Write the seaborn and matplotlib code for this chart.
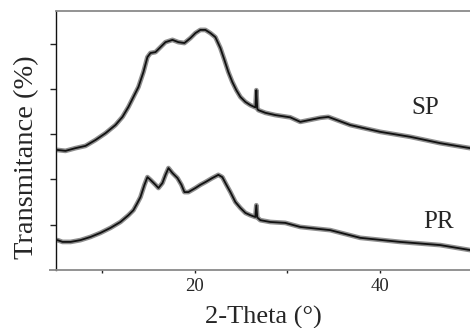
import numpy as np
import pandas as pd
import matplotlib
matplotlib.use("Agg")
import matplotlib.pyplot as plt
import seaborn as sns

# ---- data (2-theta in degrees, intensity in arbitrary units) ----
sp_theta = [5.2, 6.06, 7.14, 8.22, 9.30, 10.38, 11.45, 12.21, 12.85, 13.39, 13.93, 14.47,
            14.90, 15.23, 15.77, 16.31, 16.85, 17.60, 18.24, 18.89, 19.54, 20.08, 20.61,
            21.15, 21.69, 22.23, 22.77, 23.20, 23.63, 24.06, 24.49, 24.93, 25.47, 26.00,
            26.43, 26.55, 26.65, 26.75, 26.86, 27.62, 28.70, 30.31, 31.39, 33.55, 34.41,
            36.78, 40.01, 43.25, 46.48, 49.71]
sp_int = [2.65, 2.63, 2.69, 2.74, 2.87, 3.02, 3.20, 3.38, 3.60, 3.82, 4.04, 4.37,
          4.70, 4.79, 4.81, 4.92, 5.03, 5.08, 5.03, 5.01, 5.12, 5.23, 5.30,
          5.30, 5.23, 5.14, 4.90, 4.64, 4.37, 4.15, 3.97, 3.82, 3.71, 3.64,
          3.60, 3.59, 3.97, 3.56, 3.53, 3.47, 3.42, 3.37, 3.27, 3.36, 3.38,
          3.20, 3.05, 2.94, 2.80, 2.69]

pr_theta = [5.2, 5.74, 6.61, 7.68, 8.76, 9.84, 10.92, 11.99, 12.85, 13.39, 13.82, 14.15,
            14.58, 14.90, 15.23, 15.77, 16.09, 16.52, 16.85, 17.17, 17.60, 18.14, 18.57,
            18.89, 19.32, 20.08, 20.61, 21.15, 21.90, 22.55, 22.98, 23.42, 23.85, 24.39,
            24.93, 25.47, 26.00, 26.54, 26.65, 26.75, 27.08, 28.16, 29.77, 31.39, 34.62,
            37.86, 42.17, 46.48, 49.71]
pr_int = [0.66, 0.62, 0.62, 0.66, 0.73, 0.82, 0.93, 1.06, 1.21, 1.32, 1.48, 1.61,
          1.88, 2.05, 1.99, 1.88, 1.81, 1.92, 2.10, 2.25, 2.14, 2.03, 1.88,
          1.72, 1.72, 1.81, 1.88, 1.94, 2.03, 2.10, 2.05, 1.88, 1.72, 1.50,
          1.37, 1.26, 1.21, 1.17, 1.43, 1.16, 1.10, 1.06, 1.04, 0.95, 0.88,
          0.71, 0.62, 0.55, 0.44]

x_ticks = [10, 20, 30, 40]
x_tick_labels = ["", "20", "", "40"]
y_ticks = [1, 2, 3, 4, 5]

df = pd.concat([
    pd.DataFrame({"theta": sp_theta, "I": sp_int, "sample": "SP"}),
    pd.DataFrame({"theta": pr_theta, "I": pr_int, "sample": "PR"}),
])

sns.set_style("white")
plt.rcParams["font.family"] = ["Liberation Serif", "DejaVu Serif"]

fig = plt.figure(figsize=(4.7, 3.28), dpi=100)
W, H = 470, 328
px_per_deg = 9.27
x0_px = 102.0 - 5 * px_per_deg  # pixel of theta = 5
ax = fig.add_axes([x0_px / W, 1 - 270 / H, 45 * px_per_deg / W, (270 - 11) / H])

for name in ["SP", "PR"]:
    sub = df[df["sample"] == name]
    sns.lineplot(data=sub, x="theta", y="I", ax=ax, color="#8f8f8f", lw=3.4,
                 sort=False, estimator=None, legend=False)
    sns.lineplot(data=sub, x="theta", y="I", ax=ax, color="#111111", lw=1.3,
                 sort=False, estimator=None, legend=False)

ax.set_xlim(5, 50)
ax.set_ylim(0, (270 - 11) / 45.3)

ax.set_xticks(x_ticks)
ax.set_xticklabels(x_tick_labels, fontsize=13.5)
ax.set_yticks(y_ticks)
ax.set_yticklabels([])
ax.tick_params(axis="x", bottom=True, direction="out", length=2.5, width=1,
               color="#222222", pad=3)
ax.tick_params(axis="y", left=True, direction="out", length=4, width=1,
               color="#222222")

ax.spines["right"].set_visible(False)
ax.spines["top"].set_color("#8a8a8a")
ax.spines["top"].set_linewidth(1.3)
ax.spines["bottom"].set_color("#8a8a8a")
ax.spines["bottom"].set_linewidth(1.3)
ax.spines["left"].set_color("#111111")
ax.spines["left"].set_linewidth(1.0)
# bottom axis line runs a little past the left axis, as in the reference
ax.plot([-0.017, 0], [0, 0], transform=ax.transAxes, color="#8a8a8a", lw=1.3,
        clip_on=False, solid_capstyle="butt")

ax.set_xlabel("2-Theta (°)", fontsize=19)
ax.xaxis.set_label_coords(0.498, -0.138)
ax.set_ylabel("Transmitance (%)", fontsize=20.5)
ax.yaxis.set_label_coords(-0.040, 0.436)

ax.text(44.9, 3.58, "SP", fontsize=18, ha="center", va="center")
ax.text(46.3, 1.06, "PR", fontsize=18, ha="center", va="center")

fig.savefig("out.png", dpi=100)
